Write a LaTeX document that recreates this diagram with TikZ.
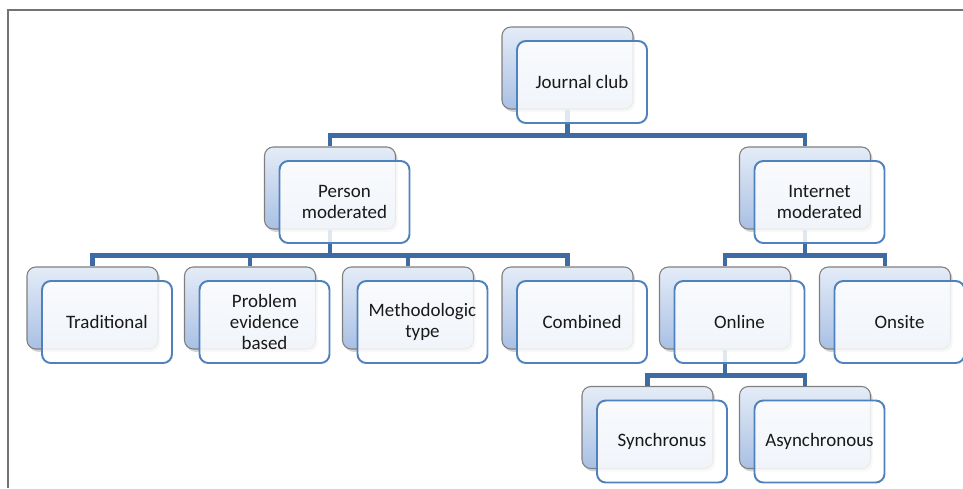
\documentclass[tikz,border=0pt]{standalone}
\usepackage{fontspec}
\setmainfont{Carlito}
\usetikzlibrary{shadows}
\definecolor{backtop}{HTML}{E4ECF7}
\definecolor{backbot}{HTML}{A9C0E4}
\definecolor{backline}{HTML}{7F7F7F}
\definecolor{frontline}{HTML}{4F81BD}
\definecolor{linkblue}{HTML}{3E6BA4}
\tikzset{
  back/.style={rectangle, rounded corners=5pt, minimum width=2.62cm, minimum height=1.64cm,
    inner sep=0pt, draw=backline, line width=0.6pt, top color=backtop, bottom color=backbot,
    drop shadow={shadow xshift=1.2pt, shadow yshift=-1.6pt, opacity=0.35}},
  front/.style={rectangle, rounded corners=5pt, minimum width=2.6cm, minimum height=1.64cm,
    inner sep=0pt, draw=frontline, line width=1.1pt, fill=white, fill opacity=0.84,
    text opacity=1, text=black!90, align=center, font=\fontsize{10.8}{12}\selectfont},
  link/.style={draw=linkblue, line width=2.8pt},
  frame/.style={draw=black!55, line width=1.1pt}
}
\begin{document}
\begin{tikzpicture}[x=0.02cm, y=-0.02cm]
	\useasboundingbox (0,0) rectangle (963,488);
	\draw [frame] (8,488) -- (8,10) -- (963,10);
	% back boxes
	\node [back] (jc) at (567.5, 68) {};
	\node [back] (pm) at (330, 188) {};
	\node [back] (im) at (805, 188) {};
	\node [back] (trad) at (92.5, 308) {};
	\node [back] (peb) at (250, 308) {};
	\node [back] (meth) at (408, 308) {};
	\node [back] (comb) at (567.5, 308) {};
	\node [back] (onl) at (725, 308) {};
	\node [back] (ons) at (885, 308) {};
	\node [back] (syn) at (647.5, 427.5) {};
	\node [back] (asyn) at (805, 427.5) {};
	% connectors
	\draw [link] (jc.south) -- +(0,26) -| (pm.north);
	\draw [link] (jc.south) -- +(0,26) -| (im.north);
	\draw [link] (pm.south) -- +(0,26) -| (trad.north);
	\draw [link] (pm.south) -- +(0,26) -| (peb.north);
	\draw [link] (pm.south) -- +(0,26) -| (meth.north);
	\draw [link] (pm.south) -- +(0,26) -| (comb.north);
	\draw [link] (im.south) -- +(0,26) -| (onl.north);
	\draw [link] (im.south) -- +(0,26) -| (ons.north);
	\draw [link] (onl.south) -- +(0,26) -| (syn.north);
	\draw [link] (onl.south) -- +(0,26) -| (asyn.north);
	% front boxes
	\node [front] (jc-t) at ([shift={(14.5,14)}]jc.center) {Journal club};
	\node [front] (pm-t) at ([shift={(14.5,14)}]pm.center) {Person\\moderated};
	\node [front] (im-t) at ([shift={(14.5,14)}]im.center) {Internet\\moderated};
	\node [front] (trad-t) at ([shift={(14.5,14)}]trad.center) {Traditional};
	\node [front] (peb-t) at ([shift={(14.5,14)}]peb.center) {Problem\\evidence\\based};
	\node [front] (meth-t) at ([shift={(14.5,14)}]meth.center) {Methodologic\\type};
	\node [front] (comb-t) at ([shift={(14.5,14)}]comb.center) {Combined};
	\node [front] (onl-t) at ([shift={(14.5,14)}]onl.center) {Online};
	\node [front] (ons-t) at ([shift={(14.5,14)}]ons.center) {Onsite};
	\node [front] (syn-t) at ([shift={(14.5,14)}]syn.center) {Synchronus};
	\node [front] (asyn-t) at ([shift={(14.5,14)}]asyn.center) {Asynchronous};
\end{tikzpicture}
\end{document}
